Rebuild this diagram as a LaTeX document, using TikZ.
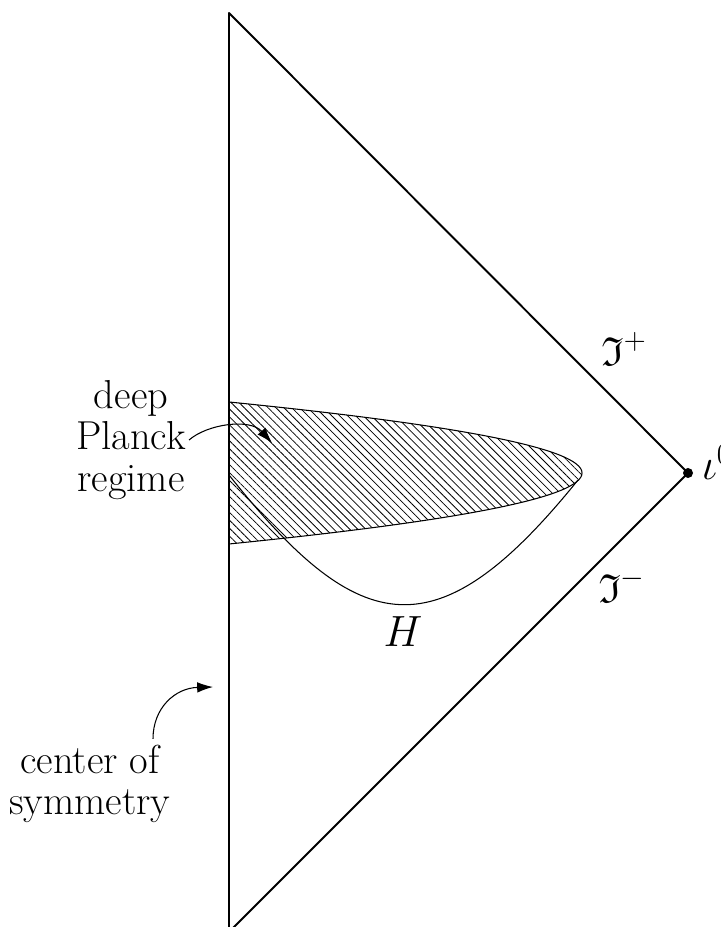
\documentclass[tikz,border=0pt]{standalone}
\usepackage{fontspec}
\usepackage{amssymb}
\usepackage{tkz-euclide}
\usetikzlibrary{arrows.meta,patterns.meta}

\begin{document}
\begin{tikzpicture}[font=\fontsize{23}{23.5}\selectfont,
  curve/.style={line width=0.6pt},
  pointer/.style={line width=0.6pt,-{Latex[length=9pt,width=6pt]}}]
\useasboundingbox (0,0) rectangle (14.4,18.54);
\tkzSetUpLine[line width=1.1pt,color=black]

\tkzDefPoints{4.58/18.28/T,4.58/-0.1/B,13.76/9.08/I0}
\tkzDefPoints{4.58/10.5/L1,4.58/7.66/L2}
\tkzDefPoints{4.58/9.04/H1,11.56/8.94/H2}

\draw[curve,pattern={Lines[angle=-45,distance=3.2pt,line width=0.45pt]}] (L1) .. controls (13.994,9.554) and (13.994,8.606) .. (L2) -- cycle;
\draw[curve] (H1) .. controls (7.2,5.74) and (8.75,5.46) .. (H2);

\tkzDrawPolygon(T,I0,B)
\fill (I0) circle (0.1);

\node (scriplus) at (12.48,11.56) {$\mathfrak{I}^+$};
\node (scriminus) at (12.44,6.82) {$\mathfrak{I}^-$};
\node[anchor=base west,inner sep=0pt] (spatial) at ([xshift=0.27cm,yshift=-0.14cm]I0) {$\iota^0$};
\node (hlabel) at (8.06,5.9) {$H$};

\node[align=center] (planck) at (2.62,9.74) {deep\\Planck\\regime};
\node[align=center] (sym) at (1.8,2.86) {center of\\symmetry};

\coordinate (pin) at (5.44,9.68);
\coordinate (axis) at (4.26,4.8);
\draw[pointer] ([xshift=-0.06cm]planck.east) .. controls (4.15,10.06) and (5.0,10.18) .. (pin);
\draw[pointer] ([xshift=1.26cm]sym.north) .. controls (3.06,4.38) and (3.5,4.78) .. (axis);

\end{tikzpicture}
\end{document}
